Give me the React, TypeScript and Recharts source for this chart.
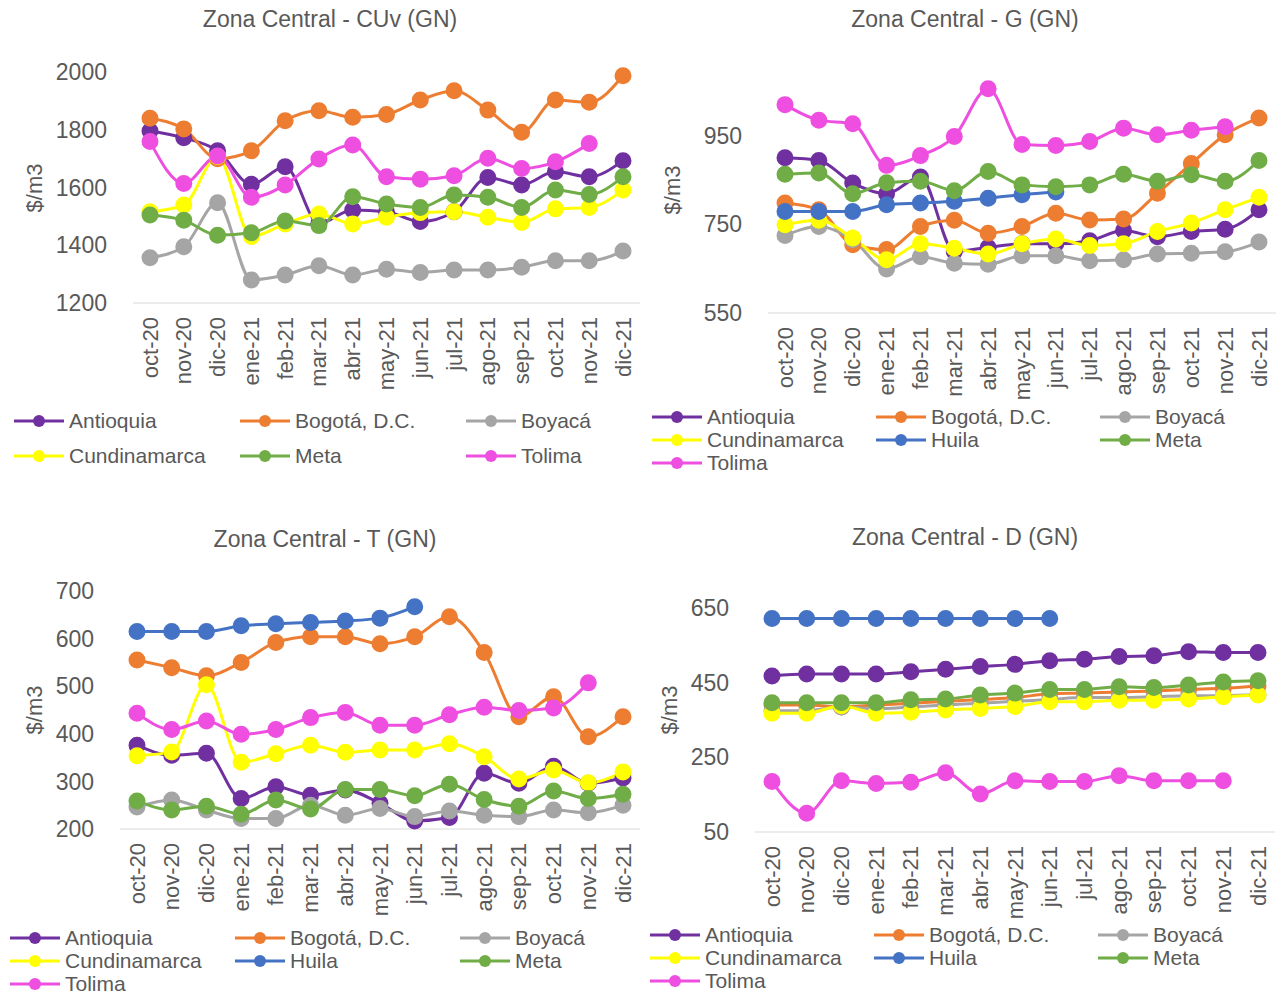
import React from "react"
import { LineChart, Line, XAxis, YAxis } from "recharts"

const months = ["oct-20", "nov-20", "dic-20", "ene-21", "feb-21", "mar-21", "abr-21", "may-21", "jun-21", "jul-21", "ago-21", "sep-21", "oct-21", "nov-21", "dic-21"]

const colors: Record<string, string> = {
  Antioquia: "#7030a0",
  "Bogotá, D.C.": "#ed7d31",
  Boyacá: "#a5a5a5",
  Cundinamarca: "#ffff00",
  Huila: "#4472c4",
  Meta: "#70ad47",
  Tolima: "#ee4fe0",
}

// CUv
const cuvAntioquia = [1796, 1772, 1727, 1611, 1672, 1476, 1522, 1516, 1482, 1516, 1635, 1609, 1655, 1637, 1693]
const cuvBogota = [1840, 1803, 1700, 1727, 1831, 1866, 1843, 1853, 1903, 1935, 1868, 1791, 1903, 1895, 1987]
const cuvBoyaca = [1357, 1395, 1547, 1280, 1297, 1329, 1297, 1317, 1306, 1314, 1314, 1324, 1346, 1346, 1380]
const cuvCundinamarca = [1516, 1539, 1707, 1430, 1474, 1508, 1474, 1497, 1513, 1516, 1497, 1479, 1526, 1531, 1591]
const cuvMeta = [1505, 1487, 1435, 1443, 1484, 1468, 1568, 1543, 1531, 1574, 1566, 1531, 1591, 1576, 1637]
const cuvTolima = [1759, 1614, 1709, 1566, 1609, 1699, 1747, 1637, 1629, 1641, 1701, 1666, 1689, 1752, null]

// G
const gAntioquia = [900, 894, 843, 819, 857, 689, 698, 706, 706, 713, 736, 722, 734, 739, 783]
const gBogota = [798, 783, 704, 693, 745, 759, 730, 745, 775, 760, 762, 820, 887, 952, 990]
const gBoyaca = [725, 745, 715, 649, 677, 662, 660, 679, 679, 668, 670, 683, 685, 688, 710]
const gCundinamarca = [749, 759, 719, 670, 706, 696, 683, 706, 717, 702, 706, 734, 753, 783, 811]
const gHuila = [779, 779, 779, 794, 798, 802, 809, 817, 823, null, null, null, null, null, null]
const gMeta = [863, 866, 819, 844, 847, 826, 869, 839, 835, 839, 863, 847, 862, 847, 894]
const gTolima = [1020, 985, 977, 883, 905, 948, 1056, 930, 928, 937, 967, 952, 962, 970, null]

// T
const tAntioquia = [376, 355, 359, 264, 289, 271, 282, 254, 217, 224, 317, 296, 332, 296, 307]
const tBogota = [555, 539, 522, 550, 592, 604, 604, 589, 604, 646, 571, 436, 478, 394, 436]
const tBoyaca = [246, 261, 240, 222, 222, 250, 229, 243, 226, 238, 229, 226, 240, 234, 250]
const tCundinamarca = [354, 362, 503, 340, 358, 376, 361, 366, 366, 379, 352, 305, 324, 297, 320]
const tHuila = [615, 615, 615, 627, 631, 634, 637, 643, 667, null, null, null, null, null, null]
const tMeta = [259, 240, 248, 231, 261, 242, 283, 283, 270, 294, 262, 248, 280, 264, 273]
const tTolima = [443, 409, 427, 399, 409, 434, 445, 418, 418, 440, 456, 449, 454, 507, null]

// D
const dAntioquia = [468, 473, 473, 473, 479, 486, 493, 499, 509, 513, 520, 522, 533, 531, 531]
const dBogota = [390, 390, 385, 390, 395, 400, 405, 410, 420, 422, 425, 428, 432, 435, 442]
const dBoyaca = [375, 375, 385, 380, 385, 390, 395, 400, 405, 410, 410, 412, 415, 415, 418]
const dCundinamarca = [368, 368, 388, 368, 371, 377, 381, 386, 399, 399, 403, 403, 406, 412, 417]
const dHuila = [622, 622, 622, 622, 622, 622, 622, 622, 622, null, null, null, null, null, null]
const dMeta = [396, 396, 396, 396, 404, 406, 417, 422, 432, 432, 439, 437, 444, 452, 455]
const dTolima = [185, 100, 187, 180, 183, 209, 152, 187, 185, 185, 201, 187, 187, 187, null]

type Series = { name: string; values: (number | null)[] }

const FONT = "'Liberation Sans', Arial, sans-serif"
const GREY = "#595959"

function buildRows(series: Series[]) {
  return months.map((m, i) => {
    const row: Record<string, string | number | null> = { month: m }
    series.forEach((s) => (row[s.name] = s.values[i]))
    return row
  })
}

const XTick = (props: any) => {
  const { x, y, payload } = props
  return (
    <text x={x} y={y + 6} transform={`rotate(-90 ${x} ${y + 6})`} textAnchor="end" dominantBaseline="central" fill={GREY} fontSize={22} fontFamily={FONT}>
      {payload.value}
    </text>
  )
}

type PanelProps = {
  title: string
  titleX: number
  titleY: number
  series: Series[]
  left: number
  right: number
  top: number
  bottom: number
  domain: [number, number]
  ticks: number[]
  labelX: number
  labelY: number
  legendTop: number
  legendLeft: number
  legendRow: number
  legendCol: number
}

function Panel(p: PanelProps) {
  const yw = 80
  const xh = 100
  const data = buildRows(p.series)
  return (
    <>
      <div style={{ position: "absolute", left: p.titleX - 200, top: p.titleY - 14, width: 400, textAlign: "center", fontFamily: FONT, fontSize: 23, color: GREY }}>
        {p.title}
      </div>
      <div style={{ position: "absolute", left: p.labelX - 40, top: p.labelY - 13, width: 80, textAlign: "center", transform: "rotate(-90deg)", fontFamily: FONT, fontSize: 22, color: GREY }}>
        $/m3
      </div>
      <div style={{ position: "absolute", left: p.left - yw, top: 0 }}>
        <LineChart width={p.right - p.left + yw} height={p.bottom + xh} data={data} margin={{ top: p.top, right: 0, bottom: 0, left: 0 }}>
          <XAxis dataKey="month" height={xh} interval={0} tick={<XTick />} stroke="#d9d9d9" tickLine={false} padding={{ left: 17, right: 17 }} />
          <YAxis width={yw} domain={p.domain} ticks={p.ticks} axisLine={false} tickLine={false} tick={{ fill: GREY, fontSize: 23, fontFamily: FONT }} tickMargin={20} />
          {p.series.map((s) => (
            <Line key={s.name} dataKey={s.name} type="monotone" stroke={colors[s.name]} strokeWidth={3} dot={{ r: 7, fill: colors[s.name], stroke: colors[s.name] }} isAnimationActive={false} />
          ))}
        </LineChart>
      </div>
      {p.series.map((s, i) => (
        <div key={s.name} style={{ position: "absolute", left: p.legendLeft + (i % 3) * p.legendCol, top: p.legendTop + Math.floor(i / 3) * p.legendRow - 12, display: "flex", alignItems: "center", fontFamily: FONT, fontSize: 21, color: GREY }}>
          <svg width={54} height={20} style={{ marginRight: 3 }}>
            <line x1={2} y1={10} x2={52} y2={10} stroke={colors[s.name]} strokeWidth={3} />
            <circle cx={27} cy={10} r={6} fill={colors[s.name]} />
          </svg>
          {s.name}
        </div>
      ))}
    </>
  )
}

export default function App() {
  return (
    <div style={{ position: "absolute", left: 0, top: 0, width: 1276, height: 993, background: "#fff" }}>
      <Panel title="Zona Central - CUv (GN)" titleX={330} titleY={20}
        series={[
          { name: "Antioquia", values: cuvAntioquia },
          { name: "Bogotá, D.C.", values: cuvBogota },
          { name: "Boyacá", values: cuvBoyaca },
          { name: "Cundinamarca", values: cuvCundinamarca },
          { name: "Meta", values: cuvMeta },
          { name: "Tolima", values: cuvTolima },
        ]}
        left={133} right={640} top={72} bottom={303} domain={[1200, 2000]} ticks={[1200, 1400, 1600, 1800, 2000]}
        labelX={35} labelY={188} legendTop={421} legendLeft={12} legendRow={35} legendCol={226} />
      <Panel title="Zona Central - G (GN)" titleX={965} titleY={20}
        series={[
          { name: "Antioquia", values: gAntioquia },
          { name: "Bogotá, D.C.", values: gBogota },
          { name: "Boyacá", values: gBoyaca },
          { name: "Cundinamarca", values: gCundinamarca },
          { name: "Huila", values: gHuila },
          { name: "Meta", values: gMeta },
          { name: "Tolima", values: gTolima },
        ]}
        left={768} right={1276} top={47} bottom={313} domain={[550, 1150]} ticks={[550, 750, 950]}
        labelX={673} labelY={190} legendTop={417} legendLeft={650} legendRow={23} legendCol={224} />
      <Panel title="Zona Central - T (GN)" titleX={325} titleY={540}
        series={[
          { name: "Antioquia", values: tAntioquia },
          { name: "Bogotá, D.C.", values: tBogota },
          { name: "Boyacá", values: tBoyaca },
          { name: "Cundinamarca", values: tCundinamarca },
          { name: "Huila", values: tHuila },
          { name: "Meta", values: tMeta },
          { name: "Tolima", values: tTolima },
        ]}
        left={120} right={640} top={591} bottom={829} domain={[200, 700]} ticks={[200, 300, 400, 500, 600, 700]}
        labelX={35} labelY={710} legendTop={938} legendLeft={8} legendRow={23} legendCol={225} />
      <Panel title="Zona Central - D (GN)" titleX={965} titleY={538}
        series={[
          { name: "Antioquia", values: dAntioquia },
          { name: "Bogotá, D.C.", values: dBogota },
          { name: "Boyacá", values: dBoyaca },
          { name: "Cundinamarca", values: dCundinamarca },
          { name: "Huila", values: dHuila },
          { name: "Meta", values: dMeta },
          { name: "Tolima", values: dTolima },
        ]}
        left={755} right={1275} top={608} bottom={832} domain={[50, 650]} ticks={[50, 250, 450, 650]}
        labelX={670} labelY={710} legendTop={935} legendLeft={648} legendRow={23} legendCol={224} />
    </div>
  )
}
